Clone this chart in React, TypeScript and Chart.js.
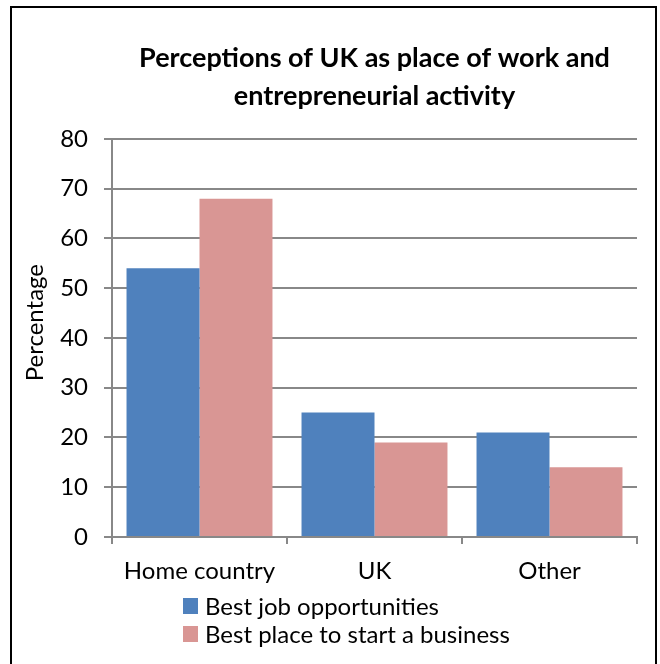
import React, { useEffect, useRef } from "react";
import { Chart, registerables } from "chart.js";

Chart.register(...registerables);

const categories = ["Home country", "UK", "Other"];
const bestJob = [54, 25, 21];
const bestBusiness = [68, 19, 14];
const seriesNames = ["Best job opportunities", "Best place to start a business"];
const seriesColors = ["#4F81BD", "#D99694"];
const titleLines = ["Perceptions of UK as place of work and", "entrepreneurial activity"];
const yTitle = "Percentage";
const yMin = 0;
const yMax = 80;
const yStep = 10;

const FONT = "Lato, 'Open Sans', sans-serif";

const stackedLegend = {
  id: "stackedLegend",
  afterDraw(chart: any) {
    const ctx = chart.ctx;
    const area = chart.chartArea;
    ctx.save();
    ctx.font = `24px ${FONT}`;
    ctx.textBaseline = "middle";
    ctx.textAlign = "left";
    chart.data.datasets.forEach((ds: any, i: number) => {
      const y = area.bottom + 69 + i * 28;
      const x = area.left + 71;
      ctx.fillStyle = ds.backgroundColor;
      ctx.fillRect(x, y - 8, 15, 16);
      ctx.fillStyle = "#000";
      ctx.fillText(ds.label, x + 22, y + 1);
    });
    ctx.restore();
  },
};

export default function App() {
  const ref = useRef<HTMLCanvasElement | null>(null);

  useEffect(() => {
    if (!ref.current) return;
    const chart = new Chart(ref.current, {
      type: "bar",
      data: {
        labels: categories,
        datasets: [
          { label: seriesNames[0], data: bestJob, backgroundColor: seriesColors[0], categoryPercentage: 0.834, barPercentage: 1 },
          { label: seriesNames[1], data: bestBusiness, backgroundColor: seriesColors[1], categoryPercentage: 0.834, barPercentage: 1 },
        ],
      },
      options: {
        animation: false,
        responsive: true,
        maintainAspectRatio: false,
        layout: { padding: { left: 14, right: 23, top: 0, bottom: 77 } },
        plugins: {
          legend: { display: false },
          tooltip: { enabled: false },
          title: {
            display: true,
            text: titleLines,
            fullSize: false,
            color: "#000",
            font: { family: FONT, size: 27, weight: "bold", lineHeight: 1.407 },
            padding: { top: 39, bottom: 24 },
          },
        },
        scales: {
          x: {
            grid: { offset: true, drawOnChartArea: false, drawTicks: true, tickLength: 7, color: "#888", lineWidth: 2 },
            border: { display: true, color: "#888", width: 2 },
            ticks: { color: "#000", font: { family: FONT, size: 24 }, padding: 13 },
            afterFit: (s: any) => {
              s.height = 50;
            },
          },
          y: {
            min: yMin,
            max: yMax,
            ticks: { stepSize: yStep, color: "#000", font: { family: FONT, size: 24 }, padding: 16 },
            grid: { color: "#888", lineWidth: 2, tickLength: 8 },
            border: { display: true, color: "#888", width: 2 },
            title: {
              display: true,
              text: "     " + yTitle,
              color: "#000",
              font: { family: FONT, size: 24 },
              padding: { top: 7, bottom: 0 },
            },
            afterFit: (s: any) => {
              s.width = 98;
            },
          },
        },
      },
      plugins: [stackedLegend],
    });
    return () => chart.destroy();
  }, []);

  return (
    <div style={{ position: "absolute", left: 0, top: 0, width: 660, height: 664, overflow: "hidden", background: "#fff" }}>
      <div style={{ position: "absolute", left: 10, top: 6, width: 643, height: 720, border: "2px solid #000" }} />
      <div style={{ position: "absolute", left: 0, top: 0, width: 660, height: 664 }}>
        <canvas ref={ref} />
      </div>
    </div>
  );
}
